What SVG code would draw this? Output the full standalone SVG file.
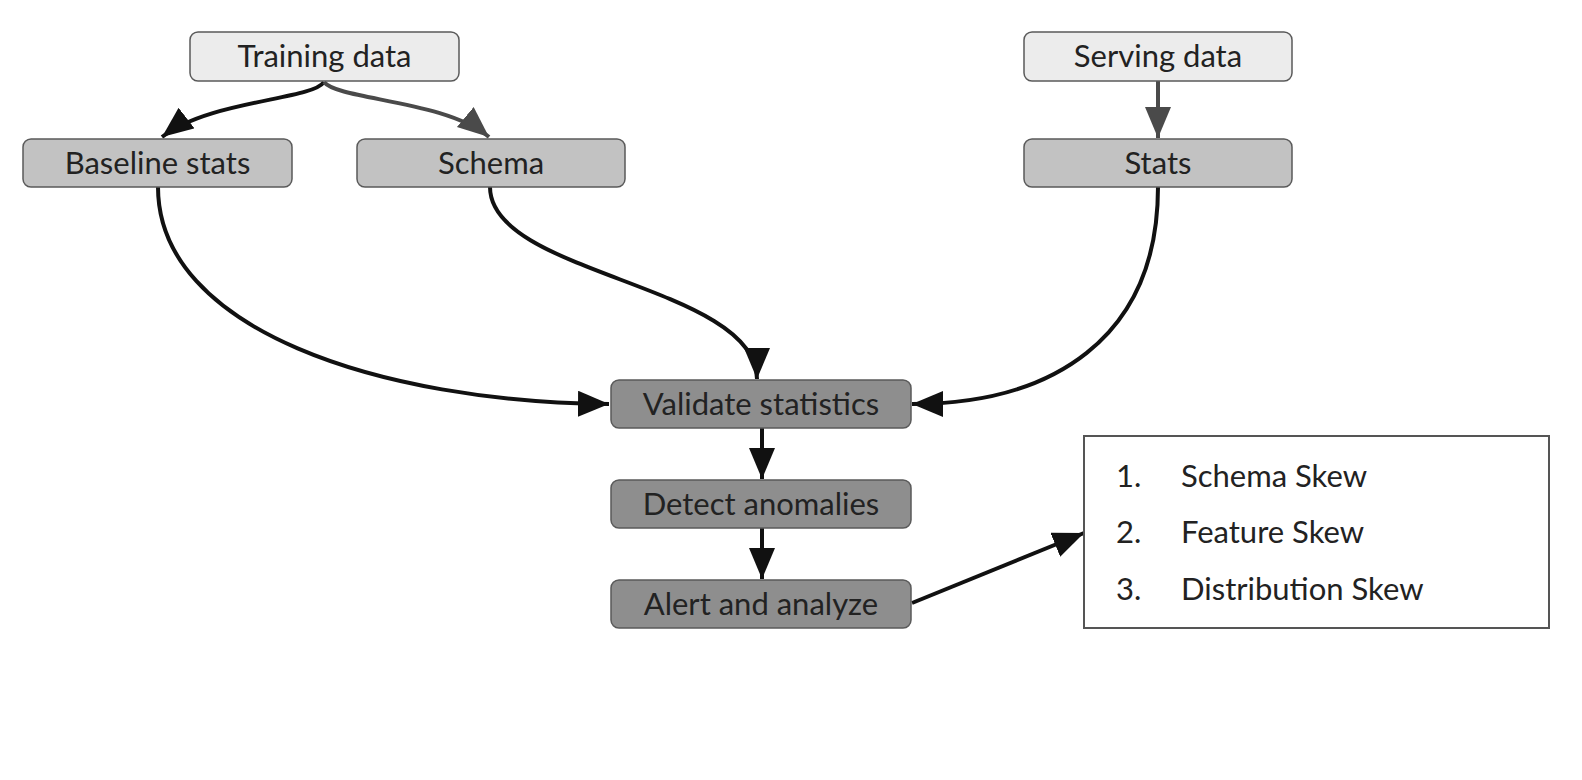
<svg xmlns="http://www.w3.org/2000/svg" width="1582" height="780" viewBox="0 0 1582 780">
<defs>
<style>
.n rect{stroke:#5a5a5a;stroke-width:1.5}
.light{fill:#ececec}
.mid{fill:#c2c2c2}
.dark{fill:#8e8e8e}
text{font-family:Lato,"Open Sans","Liberation Sans",sans-serif;font-size:31px;fill:#222}
.c{text-anchor:middle}
.e{fill:none;stroke:#111;stroke-width:4}
.g{stroke:#4a4a4a}
</style>
<marker id="ah" markerUnits="userSpaceOnUse" markerWidth="34" markerHeight="28" refX="31" refY="13" orient="auto"><path d="M0,0 L31,13 L0,26 Z" fill="#111"/></marker>
<marker id="ahg" markerUnits="userSpaceOnUse" markerWidth="34" markerHeight="28" refX="31" refY="13" orient="auto"><path d="M0,0 L31,13 L0,26 Z" fill="#4a4a4a"/></marker>
</defs>
<rect width="1582" height="780" fill="#fff"/>
<g id="connectors">
<path class="e" d="M324,82 C312,100 210,100 162,137" marker-end="url(#ah)"/>
<path class="e g" d="M324,82 C338,100 445,100 489,137" marker-end="url(#ahg)"/>
<path class="e g" d="M1158,81 L1158,138" marker-end="url(#ahg)"/>
<path class="e" d="M158,187 C158,330 380,402 609,404" marker-end="url(#ah)"/>
<path class="e" d="M490,187 C490,275 757,285 757,379" marker-end="url(#ah)"/>
<path class="e" d="M1158,187 C1158,340 1050,404 912,404" marker-end="url(#ah)"/>
<path class="e" d="M762,428 L762,479" marker-end="url(#ah)"/>
<path class="e" d="M762,528 L762,579" marker-end="url(#ah)"/>
<path class="e" d="M912,603 L1084,533" marker-end="url(#ah)"/>
</g>
<g id="training" class="n"><rect class="light" x="190" y="32" width="269" height="49" rx="8"/><text class="c" x="324.5" y="67">Training data</text></g>
<g id="serving" class="n"><rect class="light" x="1024" y="32" width="268" height="49" rx="8"/><text class="c" x="1158" y="67">Serving data</text></g>
<g id="baseline" class="n"><rect class="mid" x="23" y="139" width="269" height="48" rx="8"/><text class="c" x="157.5" y="174">Baseline stats</text></g>
<g id="schema" class="n"><rect class="mid" x="357" y="139" width="268" height="48" rx="8"/><text class="c" x="491" y="174">Schema</text></g>
<g id="stats" class="n"><rect class="mid" x="1024" y="139" width="268" height="48" rx="8"/><text class="c" x="1158" y="174">Stats</text></g>
<g id="validate" class="n"><rect class="dark" x="611" y="380" width="300" height="48" rx="8"/><text class="c" x="761" y="415">Validate statistics</text></g>
<g id="detect" class="n"><rect class="dark" x="611" y="480" width="300" height="48" rx="8"/><text class="c" x="761" y="515">Detect anomalies</text></g>
<g id="alert" class="n"><rect class="dark" x="611" y="580" width="300" height="48" rx="8"/><text class="c" x="761" y="615">Alert and analyze</text></g>
<g id="skews"><rect x="1084" y="436" width="465" height="192" fill="#fff" stroke="#555" stroke-width="2"/>
<text x="1116" y="487">1.</text><text x="1181" y="487">Schema Skew</text>
<text x="1116" y="543">2.</text><text x="1181" y="543">Feature Skew</text>
<text x="1116" y="600">3.</text><text x="1181" y="600">Distribution Skew</text>
</g>
</svg>
